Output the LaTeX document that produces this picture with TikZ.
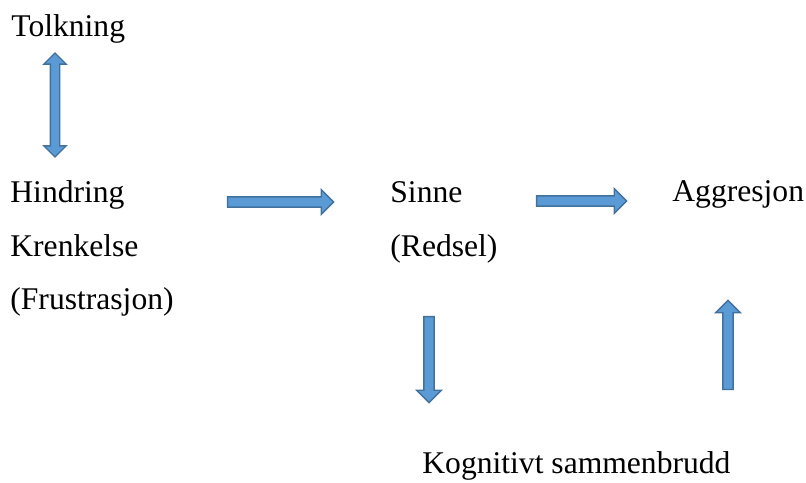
\documentclass[tikz,border=0pt]{standalone}
\usepackage{fontspec}
\setmainfont{Liberation Serif}
\usepackage{tikz}
\usetikzlibrary{shapes.arrows,positioning}
\definecolor{cFill}{HTML}{5B9BD5}
\definecolor{cLine}{HTML}{41719C}
\tikzset{
  lbl/.style={anchor=base west,inner sep=0pt,font=\fontsize{15.8}{18}\selectfont},
  barr/.style={single arrow,draw=cLine,fill=cFill,line width=.7pt,inner sep=2.2pt,
    single arrow head extend=3.6pt,single arrow head indent=0pt},
  darr/.style={double arrow,draw=cLine,fill=cFill,line width=.7pt,inner sep=2pt,
    double arrow head extend=3.2pt,double arrow head indent=0pt},
}

\begin{document}
\begin{tikzpicture}[x=0.5pt,y=-0.5pt]
  \useasboundingbox (0,0) rectangle (806,482);
  % texts
  \node[lbl] (tolk) at (11,36) {Tolkning};
  \node[lbl] (hind) at (10,202) {Hindring};
  \node[lbl] (kren) at (10,256) {Krenkelse};
  \node[lbl] (frus) at (10,309) {(Frustrasjon)};
  \node[lbl] (sinne) at (390,202) {Sinne};
  \node[lbl] (reds) at (390,256) {(Redsel)};
  \node[lbl] (aggr) at (672,201) {Aggresjon};
  \node[lbl] (kogn) at (422,473) {Kognitivt sammenbrudd};
  % block arrows
  \node[darr,minimum height=52pt,rotate=90] (a0) at (55,105) {};
  \node[barr,minimum height=53pt] (a1) at (278,202) {};
  \node[barr,minimum height=45pt] (a2) at (579,201) {};
  \node[barr,minimum height=43pt,rotate=-90] (a3) at (429,357) {};
  \node[barr,minimum height=44.5pt,rotate=90] (a4) at (728,347.5) {};
\end{tikzpicture}
\end{document}
